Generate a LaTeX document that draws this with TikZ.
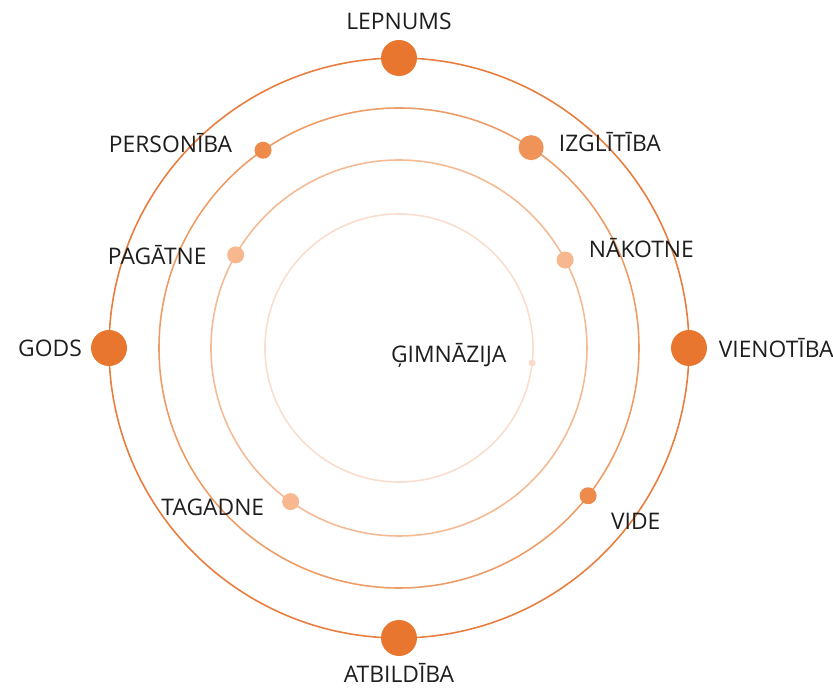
\documentclass[tikz,border=0pt]{standalone}
\usepackage{fontspec}
\setmainfont{Open Sans}
\usetikzlibrary{positioning}

\definecolor{ringone}{HTML}{E87D3E}
\definecolor{ringtwo}{HTML}{EE9C66}
\definecolor{ringthree}{HTML}{F4BA94}
\definecolor{ringfour}{HTML}{F9DDCD}
\definecolor{orbbig}{HTML}{E8762E}
\definecolor{orbmid}{HTML}{EE8A4A}
\definecolor{orblight}{HTML}{F7B78F}
\definecolor{orbpale}{HTML}{FADBCB}
\definecolor{labeltext}{HTML}{1E1E1E}

\begin{document}
\begin{tikzpicture}[%
    x=0.02cm,
    y=0.02cm,
    ring/.style={line width=0.9pt},
    orb/.style={circle, inner sep=0pt, draw=none},
    bigorb/.style={orb, minimum size=0.72cm, fill=orbbig},
    midorb/.style={orb, minimum size=0.34cm, fill=#1},
    tinyorb/.style={orb, minimum size=0.14cm, fill=orbpale},
    lbl/.style={text=labeltext, font=\fontsize{13}{15}\selectfont}
  ]
    \useasboundingbox (-399,-341) rectangle (434,348);

    % rings
    \draw[ring, ringone]   (0,0) circle (290);
    \draw[ring, ringtwo]   (0,0) circle (240);
    \draw[ring, ringthree] (0,0) circle (188);
    \draw[ring, ringfour]  (0,0) circle (134);

    % outer ring
    \node[bigorb] (lep) at (90:290)  {};
    \node[bigorb] (god) at (180:290) {};
    \node[bigorb] (vie) at (0:290)   {};
    \node[bigorb] (atb) at (270:290) {};

    % second ring
    \node[midorb=orbmid, minimum size=0.5cm, fill=orbmid!80!orblight] (izg) at (56.6:240) {};
    \node[midorb=orbmid] (per) at (124.5:240) {};
    \node[midorb=orbmid] (vid) at (-38:240)   {};

    % third ring
    \node[midorb=orblight] (pag) at (150.3:188) {};
    \node[midorb=orblight] (nak) at (27.9:188)  {};
    \node[midorb=orblight] (tag) at (234.8:188) {};

    % inner ring
    \node[tinyorb] (gim) at (-6.4:134) {};

    \node[lbl] [above=2pt of lep] {LEPNUMS};
    \node[lbl] [below=0.5pt of atb] {ATBILDĪBA};
    \node[lbl] [left=1.5pt of god]  {GODS};
    \node[lbl] [right=3pt of vie] {VIENOTĪBA};
    \node[lbl] [right=5pt of izg, yshift=3pt] {IZGLĪTĪBA};
    \node[lbl] [left=9pt of per, yshift=4pt] {PERSONĪBA};
    \node[lbl] [below right=3pt and 6pt of vid] {VIDE};
    \node[lbl] [left=8pt of pag] {PAGĀTNE};
    \node[lbl] [right=5pt of nak, yshift=7pt] {NĀKOTNE};
    \node[lbl] [left=6.5pt of tag, yshift=-3.5pt] {TAGADNE};
    \node[lbl] [left=9pt of gim, yshift=4.5pt] {ĢIMNĀZIJA};
  \end{tikzpicture}
\end{document}
